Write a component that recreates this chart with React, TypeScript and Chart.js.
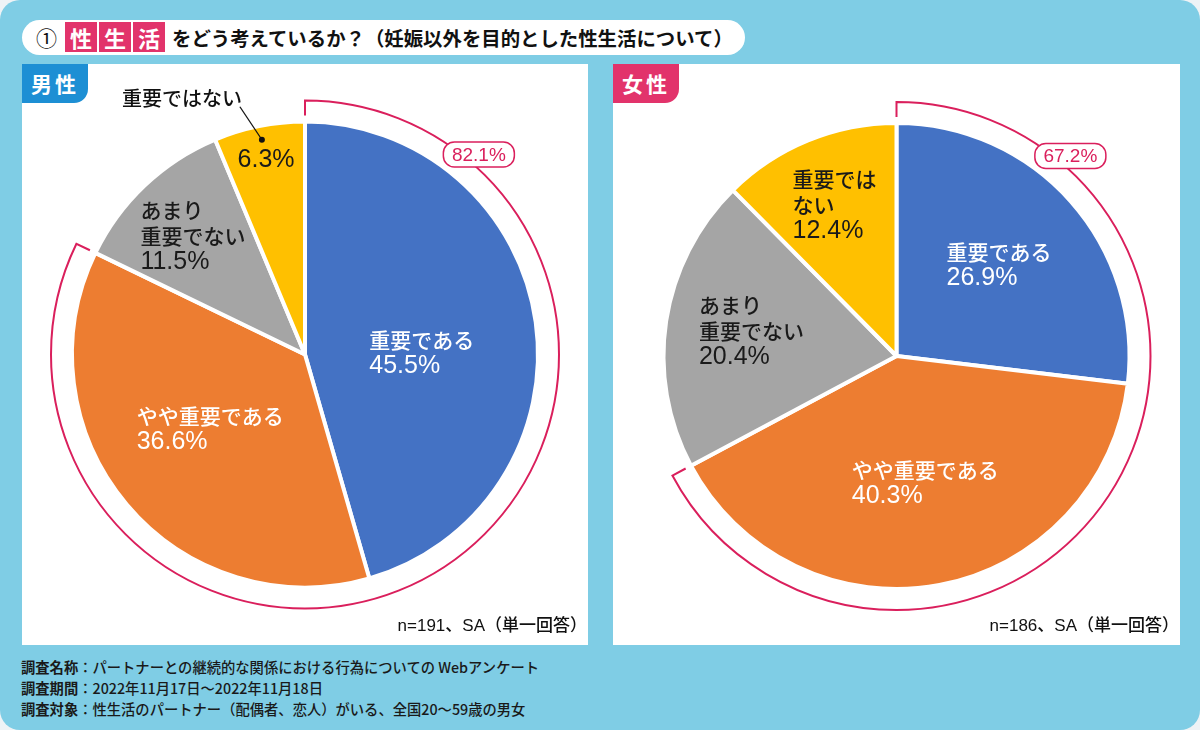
import React, { useEffect, useRef } from 'react';
import { Chart, registerables } from 'chart.js';
Chart.register(...registerables);

const categories = ['重要である', 'やや重要である', 'あまり重要でない', '重要ではない'];
const maleValues = [45.5, 36.6, 11.5, 6.3];
const femaleValues = [26.9, 40.3, 20.4, 12.4];
const maleBracket = 82.1;
const femaleBracket = 67.2;
const maleN = 191;
const femaleN = 186;
const maleLabelLines = [['重要である'], ['やや重要である'], ['あまり', '重要でない'], []];
const femaleLabelLines = [['重要である'], ['やや重要である'], ['あまり', '重要でない'], ['重要では', 'ない']];
const footerLines = [
  ['調査名称', 'パートナーとの継続的な関係における行為についての Webアンケート'],
  ['調査期間', '2022年11月17日〜2022年11月18日'],
  ['調査対象', '性生活のパートナー（配偶者、恋人）がいる、全国20〜59歳の男女'],
];

const sliceColors = ['#4472c4', '#ed7d31', '#a5a5a5', '#ffc000'];
const labelTextColors = ['#ffffff', '#ffffff', '#1a1a1a', '#1a1a1a'];
const PINK = '#da1f5c';
const JP_FONT = '500 21px "Noto Sans CJK JP", sans-serif';
const NUM_FONT = '25px "Liberation Sans", Arial, sans-serif';

// label placement: fraction of radius along slice mid-angle, plus small nudge
const maleLabelPos = [
  { f: 0.506, dx: 0, dy: 15 },
  { f: 0.515, dx: -3, dy: -3 },
  { f: 0.7, dx: 0, dy: 0 },
  { f: 0.85, dx: 0, dy: 0 },
];
const femaleLabelPos = [
  { f: 0.588, dx: 0, dy: 0 },
  { f: 0.554, dx: 5, dy: 0 },
  { f: 0.63, dx: 0, dy: -3 },
  { f: 0.7, dx: 0, dy: 0 },
];

function drawBlock(ctx: CanvasRenderingContext2D, lines: string[], x: number, y: number, color: string) {
  const fonts = lines.map((l) => (/%/.test(l) ? NUM_FONT : JP_FONT));
  let maxW = 0;
  lines.forEach((l, i) => {
    ctx.font = fonts[i];
    maxW = Math.max(maxW, ctx.measureText(l).width);
  });
  const lh = 26;
  const top = y - ((lines.length - 1) * lh) / 2;
  const left = x - maxW / 2;
  ctx.fillStyle = color;
  ctx.textBaseline = 'middle';
  ctx.textAlign = 'left';
  lines.forEach((l, i) => {
    ctx.font = fonts[i];
    ctx.fillText(l, left, top + i * lh);
  });
}

function makeDecor(values: number[], lines: string[][], pos: any[], bracket: number, callout: boolean) {
  return {
    id: 'pieDecor',
    afterDatasetsDraw(chart: any) {
      const ctx: CanvasRenderingContext2D = chart.ctx;
      const arcs = chart.getDatasetMeta(0).data as any[];
      const cx = arcs[0].x;
      const cy = arcs[0].y;
      const R = arcs[0].outerRadius;
      ctx.save();
      // bracket
      const a0 = arcs[0].startAngle;
      const a1 = arcs[1].endAngle;
      ctx.strokeStyle = PINK;
      ctx.lineWidth = 2;
      ctx.lineJoin = 'miter';
      ctx.beginPath();
      ctx.moveTo(cx + Math.cos(a0) * (R + 6), cy + Math.sin(a0) * (R + 6));
      ctx.arc(cx, cy, R + 21, a0, a1);
      ctx.lineTo(cx + Math.cos(a1) * (R + 6), cy + Math.sin(a1) * (R + 6));
      ctx.stroke();
      // bracket label
      const la = a0 + (41 * Math.PI) / 180;
      const bx = cx + Math.cos(la) * (R + 32);
      const by = cy + Math.sin(la) * (R + 32);
      const bw = 71, bh = 25;
      ctx.beginPath();
      (ctx as any).roundRect(bx - bw / 2, by - bh / 2, bw, bh, 11);
      ctx.fillStyle = '#ffffff';
      ctx.fill();
      ctx.lineWidth = 1.5;
      ctx.stroke();
      ctx.fillStyle = PINK;
      ctx.font = '19px "Liberation Sans", Arial, sans-serif';
      ctx.textAlign = 'center';
      ctx.textBaseline = 'middle';
      ctx.fillText(bracket.toFixed(1) + '%', bx, by + 1);
      // slice labels
      arcs.forEach((arc, i) => {
        const mid = (arc.startAngle + arc.endAngle) / 2;
        const p = pos[i];
        const x = cx + Math.cos(mid) * R * p.f + p.dx;
        const y = cy + Math.sin(mid) * R * p.f + p.dy;
        drawBlock(ctx, [...lines[i], values[i].toFixed(1) + '%'], x, y, labelTextColors[i]);
      });
      // callout for small slice
      if (callout) {
        const arc = arcs[3];
        const mid = (arc.startAngle + arc.endAngle) / 2;
        const dx = cx + Math.cos(mid) * R * 0.94;
        const dy = cy + Math.sin(mid) * R * 0.94;
        ctx.fillStyle = '#111';
        ctx.strokeStyle = '#111';
        ctx.lineWidth = 1.3;
        ctx.beginPath();
        ctx.arc(dx, dy, 3, 0, Math.PI * 2);
        ctx.fill();
        ctx.beginPath();
        ctx.moveTo(dx, dy);
        ctx.lineTo(dx - 22, dy - 33);
        ctx.stroke();
        ctx.font = '500 20px "Noto Sans CJK JP", sans-serif';
        ctx.textAlign = 'center';
        ctx.textBaseline = 'middle';
        ctx.fillText(categories[3], dx - 80, dy - 41);
      }
      ctx.restore();
    },
  };
}

function makeChart(canvas: HTMLCanvasElement, values: number[], lines: string[][], pos: any[], bracket: number, callout: boolean, padTop: number) {
  return new Chart(canvas, {
    type: 'pie',
    data: {
      labels: categories,
      datasets: [
        {
          data: values,
          backgroundColor: sliceColors,
          borderColor: '#ffffff',
          borderWidth: 4,
        },
      ],
    },
    options: {
      animation: false,
      responsive: false,
      devicePixelRatio: 1,
      events: [],
      radius: 233,
      layout: { padding: { top: padTop } },
      plugins: { legend: { display: false }, tooltip: { enabled: false } },
    } as any,
    plugins: [makeDecor(values, lines, pos, bracket, callout)],
  });
}

const jp = '"Noto Sans CJK JP", sans-serif';

export default function App() {
  const leftRef = useRef<HTMLCanvasElement>(null);
  const rightRef = useRef<HTMLCanvasElement>(null);
  useEffect(() => {
    const c1 = makeChart(leftRef.current!, maleValues, maleLabelLines, maleLabelPos, maleBracket, true, 0);
    const c2 = makeChart(rightRef.current!, femaleValues, femaleLabelLines, femaleLabelPos, femaleBracket, false, 3);
    return () => {
      c1.destroy();
      c2.destroy();
    };
  }, []);

  const panel = (left: number, width: number, label: string, color: string, ref: any, n: number) => (
    <div style={{ position: 'absolute', left, top: 64, width, height: 581, background: '#fff' }}>
      <canvas ref={ref} width={width} height={581} style={{ position: 'absolute', left: 0, top: 0, width, height: 581 }} />
      <div
        style={{
          position: 'absolute', left: 0, top: 0, width: 66, height: 39, background: color,
          borderBottomRightRadius: 14, color: '#fff', fontFamily: jp, fontWeight: 700, fontSize: 21,
          lineHeight: '39px', textAlign: 'center', letterSpacing: 3,
        }}
      >
        {label}
      </div>
      <div
        style={{
          position: 'absolute', right: 1, top: 550, fontFamily: '"Liberation Sans", "Noto Sans CJK JP", sans-serif',
          fontSize: 17, color: '#111', lineHeight: '24px', whiteSpace: 'nowrap', fontWeight: 500,
        }}
      >
        {`n=${n}、SA（単一回答）`}
      </div>
    </div>
  );

  return (
    <div style={{ position: 'fixed', left: 0, top: 0, width: 1200, height: 730, background: '#eef3f6', overflow: 'hidden' }}>
      <div style={{ position: 'absolute', left: 0, top: 0, width: 1200, height: 730, background: '#7fcde5', borderRadius: 20 }} />
      <div style={{ position: 'absolute', left: 22, top: 20, width: 723, height: 35, background: '#fff', borderRadius: 18 }} />
      <div style={{ position: 'absolute', left: 36, top: 20, height: 35, lineHeight: '35px', fontFamily: jp, fontSize: 21, color: '#111' }}>①</div>
      {['性', '生', '活'].map((ch, i) => (
        <div
          key={ch}
          style={{
            position: 'absolute', left: 65 + i * 34, top: 22, width: 32, height: 30, background: '#e2336b',
            color: '#fff', fontFamily: jp, fontWeight: 700, fontSize: 22, lineHeight: '30px', textAlign: 'center',
          }}
        >
          {ch}
        </div>
      ))}
      <div
        style={{
          position: 'absolute', left: 172, top: 20, height: 35, lineHeight: '35px', fontFamily: jp, fontWeight: 700,
          fontSize: 19.4, color: '#111', whiteSpace: 'nowrap',
        }}
      >
        をどう考えているか？（妊娠以外を目的とした性生活について）
      </div>
      {panel(22, 566, '男性', '#1d8fd4', leftRef, maleN)}
      {panel(613, 567, '女性', '#e2336b', rightRef, femaleN)}
      <div style={{ position: 'absolute', left: 21, top: 656, fontFamily: jp, fontSize: 14.3, lineHeight: '21px', color: '#1a1a1a', fontWeight: 500 }}>
        {footerLines.map((l) => (
          <div key={l[0]} style={{ whiteSpace: 'nowrap' }}>
            <span style={{ fontWeight: 700 }}>{l[0]}</span>：{l[1]}
          </div>
        ))}
      </div>
    </div>
  );
}
